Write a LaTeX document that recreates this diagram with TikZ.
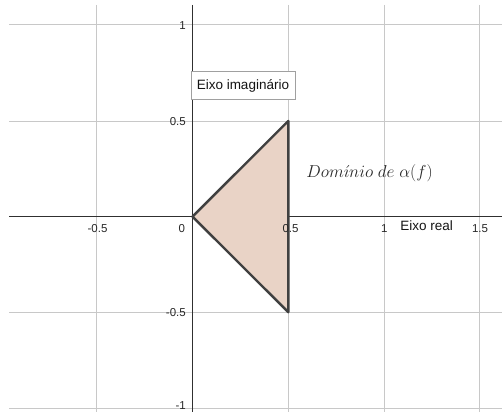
\documentclass[tikz,border=0pt]{standalone}
\usepackage{fontspec}
\setmainfont{Liberation Sans}
\begin{document}
\begin{tikzpicture}[x=1pt,y=-1pt,
  gridline/.style={draw={rgb,255:red,200;green,200;blue,200},line width=1pt},
  axisline/.style={draw={rgb,255:red,48;green,48;blue,48},line width=1.2pt},
  ticklab/.style={inner sep=0pt,font=\fontsize{11.5}{13}\selectfont,text={rgb,255:red,40;green,40;blue,40}},
  bigtext/.style={inner sep=0pt,font=\fontsize{13.5}{15}\selectfont,text={rgb,255:red,20;green,20;blue,20}},
  tri/.style={draw={rgb,255:red,64;green,64;blue,64},line width=2.4pt,line join=round,fill={rgb,255:red,233;green,211;blue,198}}
]
\useasboundingbox[fill=white] (0,0) rectangle (502,412);
% grid
\foreach \yy in {24.5,121.0,312.2,408.0} \draw[gridline] (9,\yy) -- (502,\yy);
\foreach \xx in {96.7,288.3,384.0,479.6} \draw[gridline] (\xx,5) -- (\xx,412);
% axes
\coordinate (xl) at (9,216.6);
\coordinate (xr) at (502,216.6);
\coordinate (yt) at (192.5,5);
\coordinate (yb) at (192.5,412);
\draw[axisline] (xl) -- (xr);
\draw[axisline] (yt) -- (yb);
% triangle
\coordinate (O) at (192.5,216.6);
\coordinate (A) at (288.3,121.0);
\coordinate (B) at (288.3,312.2);
\draw[tri] (O) -- (A) -- (B) -- cycle;
% tick labels
\node[ticklab,anchor=east] (y1) at (186,25.5) {1};
\node[ticklab,anchor=east] (y05) at (186,121.5) {0.5};
\node[ticklab,anchor=east] (ym05) at (186,313) {-0.5};
\node[ticklab,anchor=east] (ym1) at (186,405.5) {-1};
\node[ticklab] (xm05) at (97.5,228.3) {-0.5};
\node[ticklab] (x0) at (181.7,228.3) {0};
\node[ticklab] (x05) at (290.5,228.3) {0.5};
\node[ticklab] (x1) at (384.3,228.8) {1};
\node[ticklab] (x15) at (480,228.8) {1.5};
% labels
\node[bigtext] (er) at (426.7,226) {Eixo real};
\node[draw={rgb,255:red,160;green,160;blue,160},line width=0.8pt,fill=white,minimum width=104pt,minimum height=27.6pt,inner sep=0pt,font=\fontsize{13.5}{15}\selectfont,text={rgb,255:red,20;green,20;blue,20}] (ei) at (242.9,85.5) {Eixo imaginário};
\node[inner sep=0pt,font=\fontsize{17}{19}\selectfont,text={rgb,255:red,40;green,40;blue,40}] (dom) at (369.5,173.3) {$Dom\acute{\imath}nio\ de\ \alpha(f)$};
\end{tikzpicture}
\end{document}
